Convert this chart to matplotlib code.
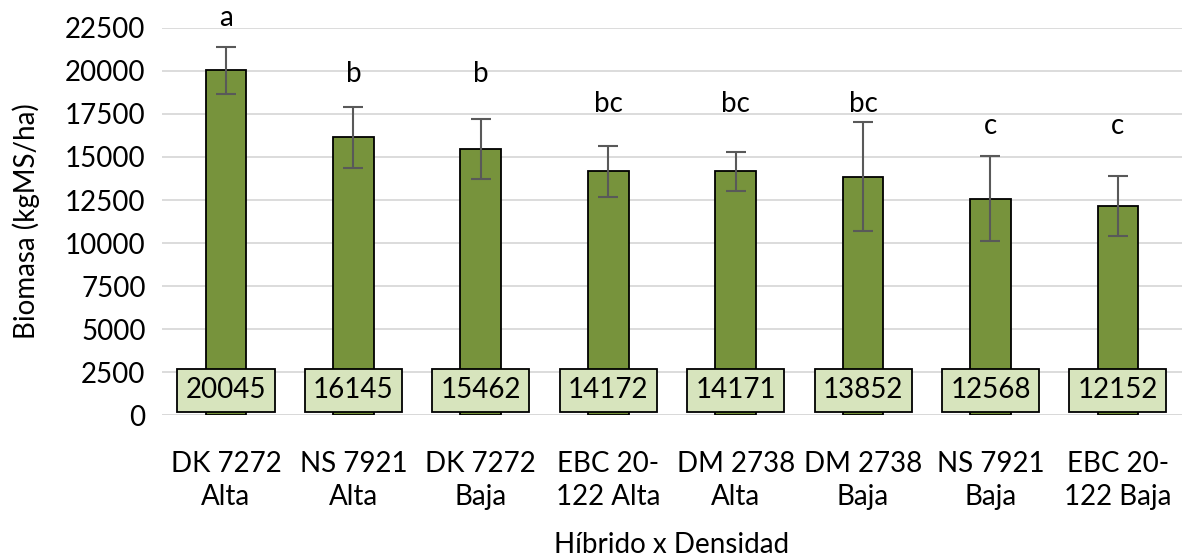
import matplotlib.pyplot as plt
import numpy as np

plt.rcParams['font.family'] = ['Lato', 'DejaVu Sans']

# data
categorias = ['DK 7272\nAlta', 'NS 7921\nAlta', 'DK 7272\nBaja', 'EBC 20-\n122 Alta',
              'DM 2738\nAlta', 'DM 2738\nBaja', 'NS 7921\nBaja', 'EBC 20-\n122 Baja']
biomasa = [20045, 16145, 15462, 14172, 14171, 13852, 12568, 12152]
error = [1370, 1760, 1750, 1470, 1120, 3170, 2470, 1740]
letras = ['a', 'b', 'b', 'bc', 'bc', 'bc', 'c', 'c']
altura_letras = [23080, 19830, 19830, 18080, 18080, 18080, 16800, 16800]

fig = plt.figure(figsize=(11.84, 5.58), dpi=100)
ax = fig.add_axes([0.137, 0.256, 0.861, 0.694])

x = np.arange(len(categorias))
ax.bar(x, biomasa, width=0.32, color='#77933C', edgecolor='black', linewidth=1.3, zorder=3)
ax.errorbar(x, biomasa, yerr=error, fmt='none', ecolor='#595959', elinewidth=1.5,
            capsize=7, capthick=1.5, zorder=4)

# letters over error bars
for xi, h, l in zip(x, altura_letras, letras):
    ax.text(xi, h, l, ha='center', va='center', fontsize=20, clip_on=False)

# value boxes
for xi, v in zip(x, biomasa):
    ax.text(xi, 1450, str(v), ha='center', va='center', fontsize=20, zorder=5,
            bbox=dict(boxstyle='square,pad=0.3', facecolor='#D7E4BD', edgecolor='black', linewidth=1.3))

ax.set_xlim(-0.5, len(categorias) - 0.5)
ax.set_ylim(0, 22500)
ax.set_yticks(np.arange(0, 22501, 2500))
ax.set_xticks(x)
ax.set_xticklabels(categorias, fontsize=20, linespacing=1.3)
ax.tick_params(axis='y', labelsize=20, length=0, pad=12)
ax.tick_params(axis='x', length=0, pad=26)
ax.grid(axis='y', color='#D9D9D9', linewidth=1.3, zorder=0)
for s in ax.spines.values():
    s.set_visible(False)
ax.axhline(0, color='#D9D9D9', linewidth=1.3, zorder=1)

ax.set_ylabel('Biomasa (kgMS/ha)', fontsize=20, labelpad=18)
ax.set_xlabel('Híbrido x Densidad', fontsize=20, labelpad=16)

plt.savefig('out.png', dpi=100)
